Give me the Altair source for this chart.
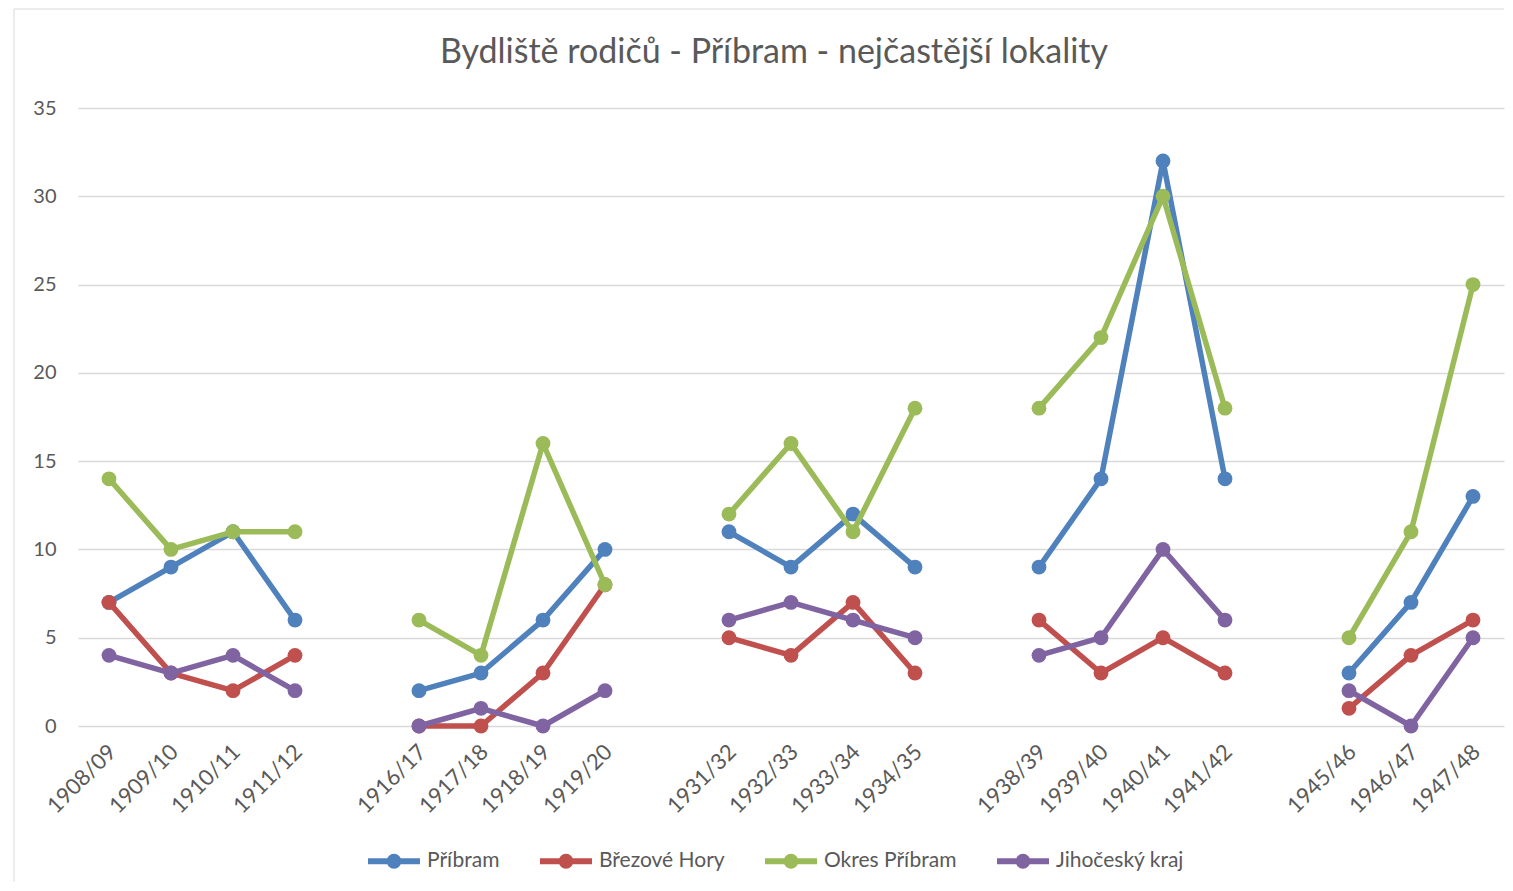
import altair as alt
import pandas as pd

# ---- data ----
seasons = ["1908/09", "1909/10", "1910/11", "1911/12",
           "1916/17", "1917/18", "1918/19", "1919/20",
           "1931/32", "1932/33", "1933/34", "1934/35",
           "1938/39", "1939/40", "1940/41", "1941/42",
           "1945/46", "1946/47", "1947/48"]
group_sizes = [4, 4, 4, 4, 3]
series_names = ["Příbram", "Březové Hory", "Okres Příbram", "Jihočeský kraj"]
pribram = [7, 9, 11, 6, 2, 3, 6, 10, 11, 9, 12, 9, 9, 14, 32, 14, 3, 7, 13]
brezove_hory = [7, 3, 2, 4, 0, 0, 3, 8, 5, 4, 7, 3, 6, 3, 5, 3, 1, 4, 6]
okres_pribram = [14, 10, 11, 11, 6, 4, 16, 8, 12, 16, 11, 18, 18, 22, 30, 18, 5, 11, 25]
jihocesky_kraj = [4, 3, 4, 2, 0, 1, 0, 2, 6, 7, 6, 5, 4, 5, 10, 6, 2, 0, 5]
colors = ["#4F81BD", "#C0504D", "#9BBB59", "#8064A2"]
title_text = "Bydliště rodičů - Příbram - nejčastější lokality"
y_ticks = [0, 5, 10, 15, 20, 25, 30, 35]

# ---- build table ----
group_of = []
for g, n in enumerate(group_sizes):
    group_of += [g] * n

# category domain with empty slots between groups
domain = []
pos = 0
for g, n in enumerate(group_sizes):
    domain += seasons[pos:pos + n]
    pos += n
    if g < len(group_sizes) - 1:
        domain.append(" " * (g + 1))

values_by_series = [pribram, brezove_hory, okres_pribram, jihocesky_kraj]
rows = []
for s_i, (name, vals) in enumerate(zip(series_names, values_by_series)):
    for i, season in enumerate(seasons):
        rows.append({"season": season, "value": vals[i], "series": name,
                     "grp": group_of[i], "order": s_i})
df = pd.DataFrame(rows)

W, H = 1426, 618
FONT = "Lato"
TXT = "#595959"
GRID = "#D9D9D9"

x_enc = alt.X("season:N",
              scale=alt.Scale(type="point", domain=domain, padding=0.5),
              sort=domain,
              axis=alt.Axis(title=None, labelAngle=315, labelAlign="right",
                            labelBaseline="middle", labelPadding=22, labelOffset=3,
                            ticks=False, tickSize=0, domain=False, grid=False,
                            labelFont=FONT, labelFontSize=22, labelColor=TXT,
                            labelOverlap=False))
y_enc = alt.Y("value:Q",
              scale=alt.Scale(domain=[0, 35], nice=False, zero=True),
              axis=alt.Axis(title=None, values=y_ticks, ticks=False, tickSize=0,
                            domain=False, grid=True, gridColor=GRID, gridWidth=1.5,
                            labelPadding=22, labelFont=FONT, labelFontSize=20,
                            labelColor=TXT))

sym_path = ("M-1,0L1,0M0.17,0A0.17,0.17,0,1,1,-0.17,0"
            "A0.17,0.17,0,1,1,0.17,0Z")
sym_color = alt.ExprRef("scale('color', datum.value)")

legend = alt.Legend(title=None, orient="none", legendX=287, legendY=724,
                    direction="horizontal", columns=4,
                    symbolType=sym_path, symbolSize=2704, symbolStrokeWidth=6,
                    symbolStrokeColor=sym_color, symbolFillColor=sym_color,
                    symbolOpacity=1,
                    labelFont=FONT, labelFontSize=21, labelColor=TXT,
                    labelOffset=4, columnPadding=28, padding=0)

color_enc = alt.Color("series:N", scale=alt.Scale(domain=series_names, range=colors),
                      legend=legend)

layers = []
for name in series_names:
    base = alt.Chart(df).transform_filter(alt.datum.series == name)
    line = base.mark_line(strokeWidth=5.5, strokeCap="round", strokeJoin="round").encode(
        x=x_enc, y=y_enc, detail="grp:N", color=color_enc)
    pts = base.mark_point(filled=True, size=220, opacity=1).encode(
        x=x_enc, y=y_enc, color=color_enc)
    layers += [line, pts]

one = pd.DataFrame({"k": [0]})
border_left = alt.Chart(one).mark_rule(color=GRID, strokeWidth=1).encode(
    x=alt.value(-64), y=alt.value(-99), y2=alt.value(774))
border_top = alt.Chart(one).mark_rule(color=GRID, strokeWidth=1).encode(
    x=alt.value(-64), x2=alt.value(W), y=alt.value(-99))
title = alt.Chart(one).mark_text(font=FONT, fontSize=34, color=TXT,
                                 align="center", baseline="middle").encode(
    x=alt.value(696), y=alt.value(-55), text=alt.value(title_text))

chart = alt.layer(border_left, border_top, title, *layers).properties(
    width=W, height=H,
    padding={"left": 5, "top": 0, "right": 0, "bottom": 0},
    background="white",
).configure_view(stroke=None)

chart.save("out.html", embed_options={"renderer": "svg", "actions": False})
